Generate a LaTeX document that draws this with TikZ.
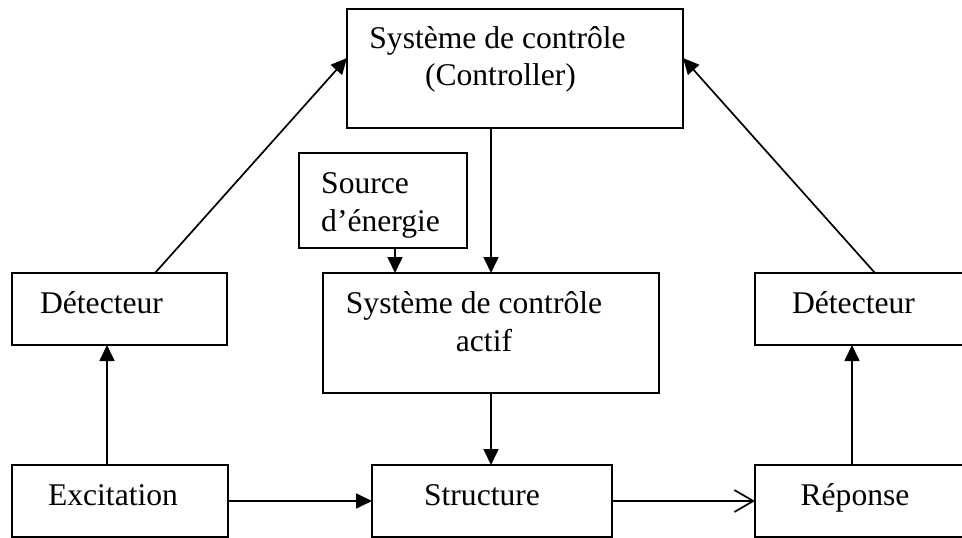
\documentclass[tikz,border=0pt]{standalone}
\usepackage{fontspec}
\setmainfont{Liberation Serif}
\usetikzlibrary{arrows.meta,calc}

\begin{document}
\begin{tikzpicture}[x=1pt,y=-1pt,
  box/.style={draw,line width=1.8pt,rectangle,inner sep=0pt,outer sep=0pt},
  txt/.style={inner sep=0pt,anchor=base,font=\fontsize{31.6}{38}\selectfont},
  link/.style={line width=1.7pt,-{Triangle[length=16pt,width=15pt]}},
  openlink/.style={line width=1.7pt,-{Straight Barb[length=19pt,width=22pt,line width=1.7pt]}}]
  \useasboundingbox (0,0) rectangle (962,538);

  % blocks
  \node[box,minimum width=336pt,minimum height=119pt] (ctrl)   at (515,68.5) {};
  \node[box,minimum width=168pt,minimum height=95pt]  (src)    at (383,200.5) {};
  \node[box,minimum width=336pt,minimum height=120pt] (actif)  at (491,333) {};
  \node[box,minimum width=215pt,minimum height=72pt]  (detL)   at (119.5,309) {};
  \node[box,minimum width=210pt,minimum height=72pt]  (detR)   at (860,309) {};
  \node[box,minimum width=216pt,minimum height=72pt]  (exc)    at (120,501) {};
  \node[box,minimum width=240pt,minimum height=72pt]  (struct) at (492,501) {};
  \node[box,minimum width=210pt,minimum height=72pt]  (rep)    at (860,501) {};

  % labels
  \node[txt] (ctrlA) at (497.5,48) {Système de contrôle};
  \node[txt] (ctrlB) at (500.5,85) {(Controller)};
  \node[txt,anchor=base west] (srcA) at (321,193) {Source};
  \node[txt,anchor=base west] (srcB) at (321,231) {d’énergie};
  \node[txt] (actA) at (474,313) {Système de contrôle};
  \node[txt] (actB) at (484,351) {actif};
  \node[txt] (detLt) at (101.5,313) {Détecteur};
  \node[txt] (detRt) at (853.5,313) {Détecteur};
  \node[txt] (exct) at (113,505) {Excitation};
  \node[txt] (structt) at (482,505) {Structure};
  \node[txt] (rept) at (855,505) {Réponse};

  % connectors
  \coordinate (excUp) at ([xshift=-13pt]exc.north);
  \draw[link] (excUp) -- (excUp |- detL.south);
  \draw[link] ([xshift=35.5pt]detL.north) -- ([yshift=10.5pt]ctrl.west);
  \draw[link] ([xshift=15pt]detR.north) -- ([yshift=10.5pt]ctrl.east);
  \draw[link] (ctrl.south -| actif.north) -- (actif.north);
  \coordinate (srcDown) at ([xshift=12pt]src.south);
  \draw[link] (srcDown) -- (srcDown |- actif.north);
  \draw[link] (actif.south) -- (actif.south |- struct.north);
  \draw[link] (exc.east) -- (struct.west);
  \draw[openlink] (struct.east) -- (rep.west);
  \coordinate (repUp) at ([xshift=-8pt]rep.north);
  \draw[link] (repUp) -- (repUp |- detR.south);
\end{tikzpicture}
\end{document}
